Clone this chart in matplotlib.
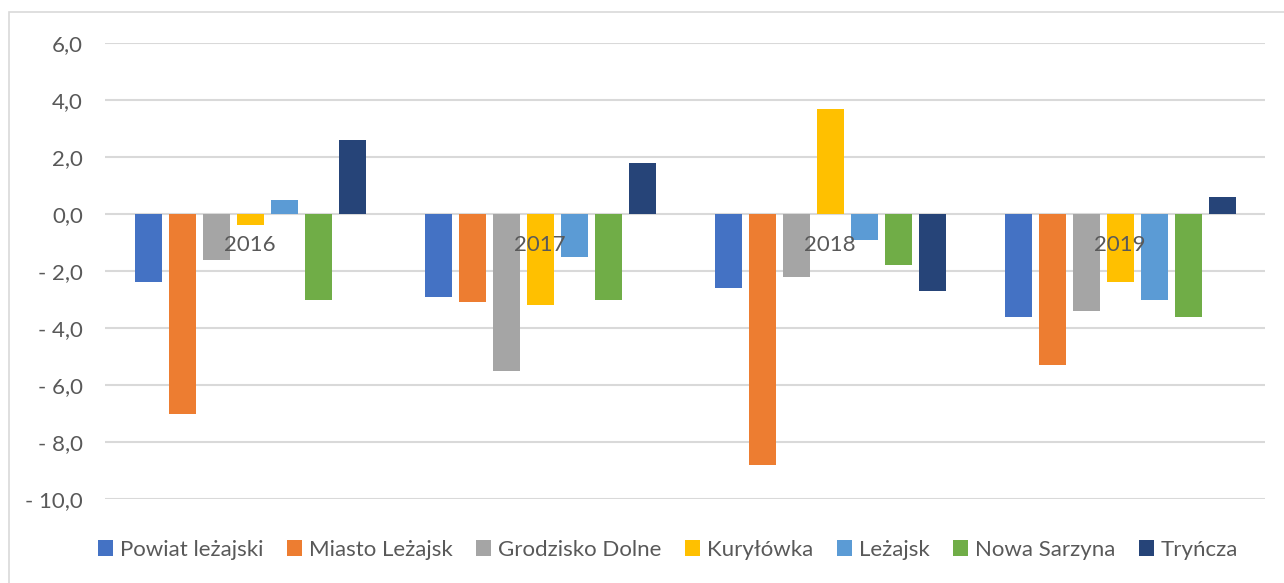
import numpy as np
import matplotlib.pyplot as plt
from matplotlib.patches import Rectangle

years = ['2016', '2017', '2018', '2019']
series = ['Powiat leżajski', 'Miasto Leżajsk', 'Grodzisko Dolne', 'Kuryłówka',
          'Leżajsk', 'Nowa Sarzyna', 'Tryńcza']
powiat = [-2.4, -2.9, -2.6, -3.6]
miasto = [-7.0, -3.1, -8.8, -5.3]
grodzisko = [-1.6, -5.5, -2.2, -3.4]
kurylowka = [-0.4, -3.2, 3.7, -2.4]
lezajsk = [0.5, -1.5, -0.9, -3.0]
nowa_sarzyna = [-3.0, -3.0, -1.8, -3.6]
tryncza = [2.6, 1.8, -2.7, 0.6]
yticks = [6, 4, 2, 0, -2, -4, -6, -8, -10]

colors = ['#4472C4', '#ED7D31', '#A5A5A5', '#FFC000', '#5B9BD5', '#70AD47', '#264478']
values = [powiat, miasto, grodzisko, kurylowka, lezajsk, nowa_sarzyna, tryncza]

plt.rcParams['font.family'] = ['Lato', 'DejaVu Sans']
txt = '#595959'
fs = 16

fig = plt.figure(figsize=(12.84, 5.83), dpi=100)
fig.patches.append(Rectangle((9 / 1284, -0.01), 1.0, 1 - 12 / 583 + 0.01,
                             transform=fig.transFigure, fill=False,
                             edgecolor='#d9d9d9', lw=1.2))
ax = fig.add_axes([105 / 1284, 1 - 499 / 583, 1160 / 1284, 456 / 583])

x = np.arange(len(years))
step = 34 / 290
width = 27 / 290
for i, (name, vals) in enumerate(zip(series, values)):
    ax.bar(x + (i - 3) * step, vals, width, color=colors[i], label=name, zorder=3)

ax.set_xlim(-0.5, 3.5)
ax.set_ylim(-10, 6)
ax.set_yticks(yticks)
ax.set_yticklabels([f'{v:.1f}'.replace('.', ',').replace('-', '- ') for v in yticks],
                   color=txt, fontsize=fs)
ax.tick_params(axis='y', length=0, pad=16)
ax.set_xticks([])
ax.grid(axis='y', color='#d9d9d9', lw=1.5, zorder=0)
for s in ax.spines.values():
    s.set_visible(False)

for xi, yr in zip(x, years):
    ax.annotate(yr, (xi, 0), xytext=(0, -31), textcoords='offset pixels',
                ha='center', va='center', color=txt, fontsize=fs, zorder=5)

fig.legend(loc='center', bbox_to_anchor=(1 - 616 / 1284, 1 - 550 / 583), ncol=7,
           frameon=False, fontsize=fs, handlelength=0.7, handleheight=0.7,
           handletextpad=0.3, columnspacing=1.05, labelcolor=txt)

fig.savefig('out.png', dpi=100)
